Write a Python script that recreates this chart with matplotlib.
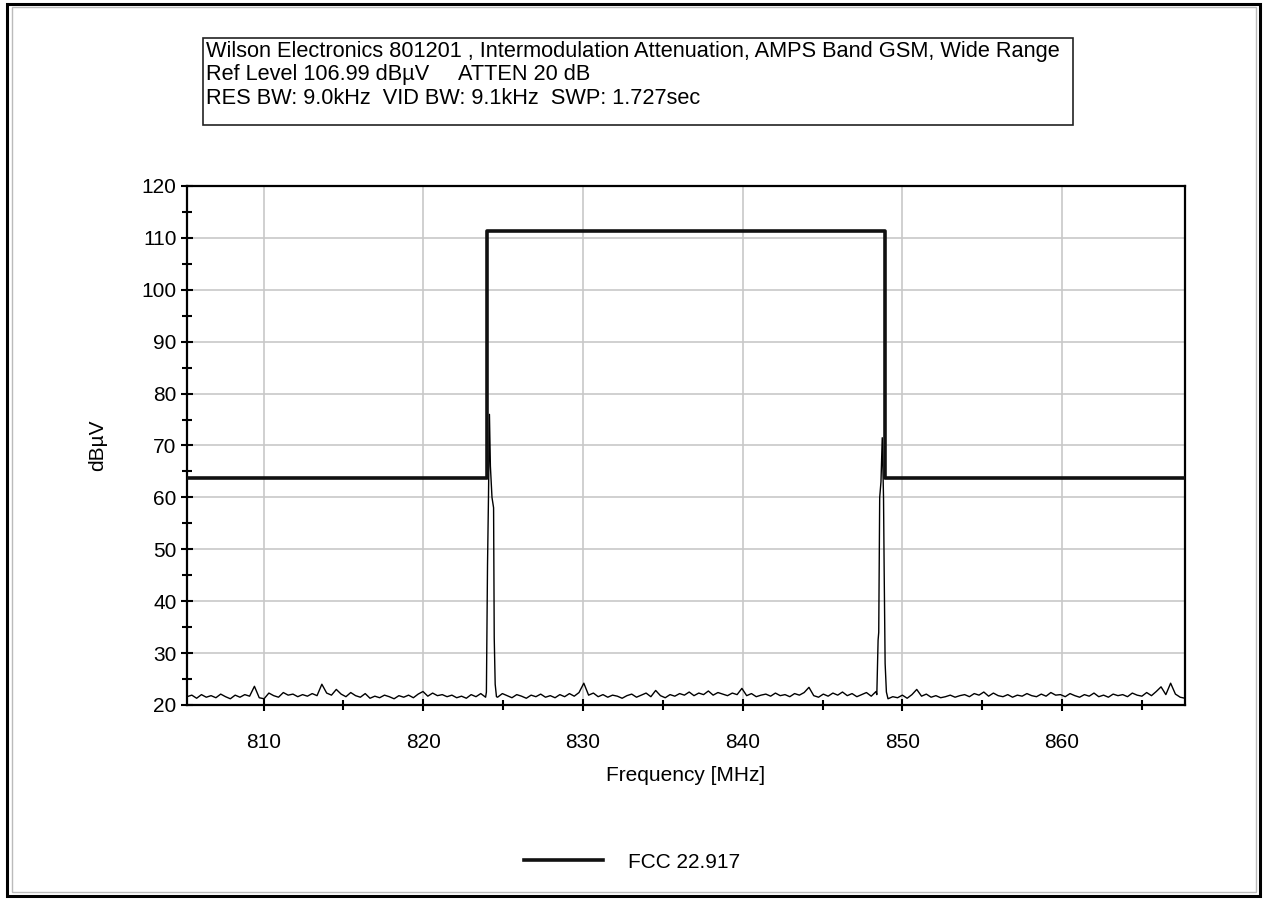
import numpy as np
import matplotlib.pyplot as plt
from matplotlib.patches import Rectangle
from matplotlib.ticker import MultipleLocator

plt.rcParams['font.family'] = ['Liberation Sans', 'DejaVu Sans']

# Chart texts
title_lines = [
    "Wilson Electronics 801201 , Intermodulation Attenuation, AMPS Band GSM, Wide Range",
    "Ref Level 106.99 dB\u00b5V     ATTEN 20 dB",
    "RES BW: 9.0kHz  VID BW: 9.1kHz  SWP: 1.727sec",
]
x_label = "Frequency [MHz]"
y_label = "dB\u00b5V"
limit_name = "FCC 22.917"

# FCC limit mask (MHz, dBuV)
limit_freq = [805.2, 824.0, 824.0, 848.9, 848.9, 867.7]
limit_level = [63.8, 63.8, 111.3, 111.3, 63.8, 63.8]

left_span = (805.2, 823.9)
left_levels = [21.6, 21.9, 21.3, 22.0, 21.5, 21.8, 21.4, 22.1, 21.6, 21.2, 21.9, 21.5,
               22.0, 21.7, 23.6, 21.4, 21.2, 22.3, 21.8, 21.5, 22.4, 21.9, 22.1, 21.6,
               22.0, 21.7, 22.2, 21.8, 24.0, 22.3, 21.9, 23.0, 22.1, 21.6, 22.4, 21.8,
               21.5, 22.2, 21.3, 21.7, 21.4, 21.9, 21.6, 21.2, 21.8, 21.5, 21.9, 21.4,
               22.1, 22.6, 21.7, 22.3, 21.8, 22.0, 21.6, 21.9, 21.4, 21.7, 21.3, 22.0,
               21.6, 22.2, 21.5]
spike1_freq = [823.95, 824.02, 824.08, 824.14, 824.2, 824.3, 824.4, 824.44, 824.5, 824.58]
spike1_level = [22.5, 47.0, 60.0, 76.0, 66.0, 60.0, 58.0, 33.0, 24.0, 21.6]
mid_span = (824.65, 848.35)
mid_levels = [21.5, 22.2, 21.8, 21.4, 22.0, 21.7, 21.3, 21.9, 21.6, 22.1, 21.5, 21.8,
              21.4, 22.0, 21.6, 22.2, 21.7, 22.4, 24.2, 21.9, 22.3, 21.6, 22.0, 21.5,
              21.9, 21.7, 21.3, 21.8, 22.1, 21.5, 21.9, 22.3, 21.6, 22.8, 21.8, 21.4,
              22.0, 21.7, 22.2, 21.9, 22.5, 21.8, 22.3, 22.0, 22.7, 21.9, 22.4, 22.1,
              21.8, 22.3, 22.0, 23.2, 21.8, 22.2, 21.6, 21.9, 22.1, 21.7, 22.3, 21.8,
              22.0, 21.6, 22.2, 21.9, 22.4, 23.4, 21.8, 21.5, 22.1, 21.7, 22.3, 21.9,
              22.5, 21.8, 22.2, 21.6, 22.0, 22.4, 21.7, 22.6]
spike2_freq = [848.4, 848.48, 848.52, 848.58, 848.66, 848.74, 848.82, 848.86, 848.92, 849.0]
spike2_level = [22.0, 32.5, 34.0, 60.0, 63.0, 71.5, 60.0, 46.0, 28.0, 22.5]
right_span = (849.1, 867.7)
right_levels = [21.2, 21.6, 21.4, 21.9, 21.3, 22.0, 23.0, 21.7, 22.1, 21.5, 21.8, 21.4,
                21.6, 21.9, 21.5, 21.8, 22.0, 21.6, 22.2, 21.9, 22.5, 21.7, 22.3, 21.8,
                21.6, 22.0, 21.5, 21.9, 21.7, 22.2, 21.8, 21.6, 22.1, 21.7, 22.4, 21.9,
                22.0, 21.6, 22.2, 21.8, 21.5, 22.0, 21.7, 22.3, 21.6, 21.9, 21.5, 22.1,
                21.8, 22.0, 21.6, 22.3, 21.9, 21.7, 22.4, 21.8, 22.6, 23.5, 22.0, 24.2,
                22.1, 21.5, 21.3]

x_ticks = [810, 820, 830, 840, 850, 860]
y_ticks = [20, 30, 40, 50, 60, 70, 80, 90, 100, 110, 120]

# build the trace
trace_freq = np.concatenate([
    np.linspace(*left_span, len(left_levels)), spike1_freq,
    np.linspace(*mid_span, len(mid_levels)), spike2_freq,
    np.linspace(*right_span, len(right_levels))])
trace_level = np.concatenate([left_levels, spike1_level, mid_levels,
                              spike2_level, right_levels])

fig = plt.figure(figsize=(12.67, 8.99), dpi=100)
W, H = 1267, 899

def px(x, y, w, h):
    # pixel box (from top-left) -> figure fraction
    return [x / W, 1 - (y + h) / H, w / W, h / H]

ax = fig.add_axes(px(187, 186, 998, 519))

ax.plot(trace_freq, trace_level, color='black', lw=1.0, zorder=3)
ax.plot(limit_freq, limit_level, color='#111111', lw=2.6, zorder=4, label=limit_name)

ax.set_xlim(805.2, 867.7)
ax.set_ylim(20, 120)
ax.set_xticks(x_ticks)
ax.set_yticks(y_ticks)
ax.xaxis.set_minor_locator(MultipleLocator(5))
ax.yaxis.set_minor_locator(MultipleLocator(5))
ax.grid(True, which='major', color='#c8c8c8', lw=1.2, zorder=0)
ax.tick_params(which='major', direction='inout', length=9, width=1.5, labelsize=15, pad=3)
ax.tick_params(which='minor', direction='inout', length=7, width=1.5)
ax.tick_params(axis='x', pad=16)
for s in ax.spines.values():
    s.set_linewidth(1.6)
ax.set_xlabel(x_label, fontsize=15, labelpad=10)
ax.set_ylabel(y_label, fontsize=15, labelpad=25)

# title box
fig.patches.append(Rectangle(px(203, 38, 870, 87)[:2], 870 / W, 87 / H,
                             transform=fig.transFigure, fill=False,
                             edgecolor='#222222', lw=1.2))
for i, line in enumerate(title_lines):
    fig.text(206 / W, 1 - (51 + 23.5 * i) / H, line, fontsize=15.7, va='center', ha='left')

# outer frame
fig.patches.append(Rectangle((7 / W, 3 / H), 1253 / W, 892 / H, transform=fig.transFigure,
                             fill=False, edgecolor='black', lw=2.2))
fig.patches.append(Rectangle((12 / W, 7 / H), 1244 / W, 885 / H, transform=fig.transFigure,
                             fill=False, edgecolor='#bbbbbb', lw=1.0))

fig.legend(loc='center', bbox_to_anchor=(632 / W, 1 - 862 / H), frameon=False,
           fontsize=15, handlelength=3.8, handletextpad=1.2)

fig.savefig('out.png', dpi=100)
